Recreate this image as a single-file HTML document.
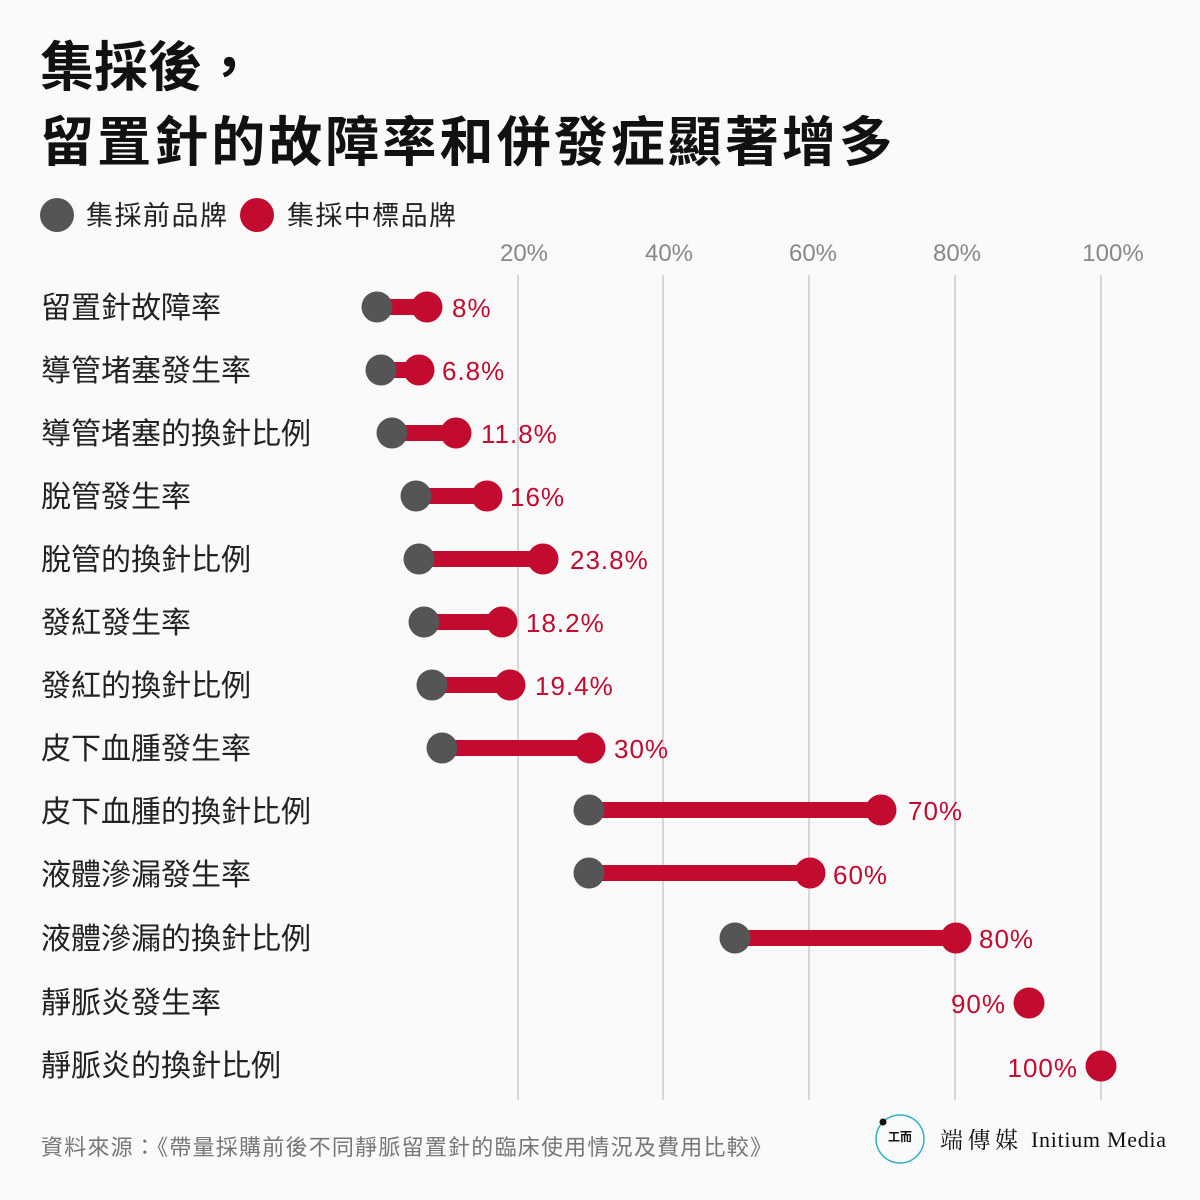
<!DOCTYPE html>
<html><head><meta charset="utf-8"><style>
body{margin:0;background:#fafafa}
svg{display:block;font-family:"Liberation Sans","Noto Sans CJK TC",sans-serif}
</style></head><body>
<svg width="1200" height="1200" viewBox="0 0 1200 1200">
<rect width="1200" height="1200" fill="#fafafa"/>
<text x="40" y="86" font-size="54" font-weight="bold" fill="#111" textLength="216">集採後，</text>
<text x="40" y="161" font-size="54" font-weight="bold" fill="#111" textLength="853">留置針的故障率和併發症顯著增多</text>
<circle cx="57" cy="215" r="17" fill="#555"/>
<text x="86" y="225" font-size="27" fill="#222" textLength="141">集採前品牌</text>
<circle cx="257" cy="215" r="17" fill="#c30a2f"/>
<text x="287" y="225" font-size="27" fill="#222" textLength="169">集採中標品牌</text>
<g stroke="#d6d6d6" stroke-width="2">
<line x1="518" y1="275" x2="518" y2="1100"/><line x1="663" y1="275" x2="663" y2="1100"/>
<line x1="809" y1="275" x2="809" y2="1100"/><line x1="955" y1="275" x2="955" y2="1100"/>
<line x1="1101" y1="275" x2="1101" y2="1100"/></g>
<g font-size="24" fill="#888" text-anchor="middle">
<text x="524" y="261">20%</text><text x="669" y="261">40%</text><text x="813" y="261">60%</text><text x="957" y="261">80%</text><text x="1113" y="261">100%</text></g>
<g font-size="30" fill="#222">
<text x="41" y="318">留置針故障率</text>
<text x="41" y="381">導管堵塞發生率</text>
<text x="41" y="444">導管堵塞的換針比例</text>
<text x="41" y="507">脫管發生率</text>
<text x="41" y="570">脫管的換針比例</text>
<text x="41" y="633">發紅發生率</text>
<text x="41" y="696">發紅的換針比例</text>
<text x="41" y="759">皮下血腫發生率</text>
<text x="41" y="822">皮下血腫的換針比例</text>
<text x="41" y="885">液體滲漏發生率</text>
<text x="41" y="949">液體滲漏的換針比例</text>
<text x="41" y="1013">靜脈炎發生率</text>
<text x="41" y="1076">靜脈炎的換針比例</text>
</g>
<g fill="#c30a2f">
<rect x="377" y="299" width="50" height="16"/>
<rect x="381" y="362" width="38" height="16"/>
<rect x="392" y="425" width="64" height="16"/>
<rect x="416" y="488" width="71" height="16"/>
<rect x="419" y="551" width="124" height="16"/>
<rect x="424" y="614" width="78" height="16"/>
<rect x="432" y="677" width="78" height="16"/>
<rect x="442" y="740" width="148" height="16"/>
<rect x="589" y="802" width="292" height="16"/>
<rect x="589" y="865" width="221" height="16"/>
<rect x="735" y="930" width="221" height="16"/>
</g>
<g fill="#555">
<circle cx="377" cy="307" r="15.5"/><circle cx="381" cy="370" r="15.5"/><circle cx="392" cy="433" r="15.5"/>
<circle cx="416" cy="496" r="15.5"/><circle cx="419" cy="559" r="15.5"/><circle cx="424" cy="622" r="15.5"/>
<circle cx="432" cy="685" r="15.5"/><circle cx="442" cy="748" r="15.5"/><circle cx="589" cy="810" r="15.5"/>
<circle cx="589" cy="873" r="15.5"/><circle cx="735" cy="938" r="15.5"/>
</g>
<g fill="#c30a2f">
<circle cx="427" cy="307" r="15.5"/><circle cx="419" cy="370" r="15.5"/><circle cx="456" cy="433" r="15.5"/>
<circle cx="487" cy="496" r="15.5"/><circle cx="543" cy="559" r="15.5"/><circle cx="502" cy="622" r="15.5"/>
<circle cx="510" cy="685" r="15.5"/><circle cx="590" cy="748" r="15.5"/><circle cx="881" cy="810" r="15.5"/>
<circle cx="810" cy="873" r="15.5"/><circle cx="956" cy="938" r="15.5"/><circle cx="1029" cy="1003" r="15.5"/>
<circle cx="1101" cy="1066" r="15.5"/>
</g>
<g font-size="26" fill="#c30a2f" letter-spacing="1">
<text x="452" y="317">8%</text><text x="442" y="380">6.8%</text><text x="481" y="443">11.8%</text>
<text x="510" y="506">16%</text><text x="570" y="569">23.8%</text><text x="526" y="632">18.2%</text>
<text x="535" y="695">19.4%</text><text x="614" y="758">30%</text><text x="908" y="820">70%</text>
<text x="833" y="884">60%</text><text x="979" y="948">80%</text>
<text x="1006" y="1013" text-anchor="end">90%</text><text x="1078" y="1077" text-anchor="end">100%</text>
</g>
<text x="41" y="1155" font-size="22" fill="#777" textLength="731">資料來源：《帶量採購前後不同靜脈留置針的臨床使用情況及費用比較》</text>
<circle cx="900" cy="1139" r="24" fill="none" stroke="#2ab3c8" stroke-width="1.5"/>
<circle cx="883" cy="1122" r="3.5" fill="#111"/>
<text x="888" y="1141" font-size="12" fill="#111" font-weight="bold">工而</text>
<text x="940" y="1148" font-size="23" fill="#111" font-family="Noto Serif CJK SC,serif" textLength="78">端傳媒</text>
<text x="1031" y="1147" font-size="22" fill="#111" font-family="Liberation Serif,serif" textLength="135">Initium Media</text>
</svg>
</body></html>
